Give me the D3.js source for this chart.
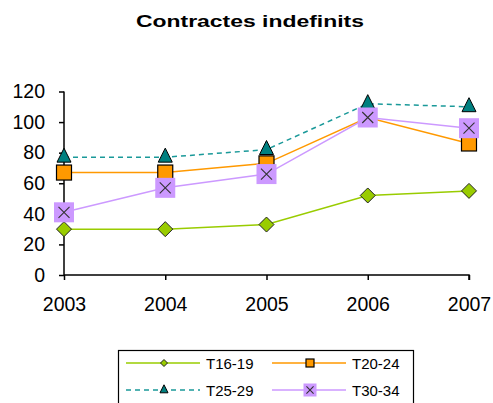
<!DOCTYPE html>
<html>
<head>
<meta charset="utf-8">
<script src="https://cdn.jsdelivr.net/npm/d3@7"></script>
<style>
  body { margin: 0; background: #fff; }
  text { font-family: Arial, "Liberation Sans", sans-serif; }
</style>
</head>
<body>
<svg id="chart" width="493" height="403"></svg>
<script>
//////////////////// DATA ////////////////////
const years = ["2003", "2004", "2005", "2006", "2007"];
const yTicks = [0, 20, 40, 60, 80, 100, 120];
const seriesNames = ["T16-19", "T20-24", "T25-29", "T30-34"];
const t16_19 = [30, 30, 33, 52, 55];
const t20_24 = [67, 67, 73, 103, 86];
const t25_29 = [77, 77, 82, 112, 110];
const t30_34 = [41, 57, 66, 103, 96];

//////////////////// STYLES ////////////////////
const styles = [
    { color: "#99cc00", dash: null, marker: "diamond", fill: "#99cc00" },
    { color: "#ff9900", dash: null, marker: "square", fill: "#ff9900" },
    { color: "#1a9999", dash: "5,4", marker: "triangle", fill: "#008080" },
    { color: "#cc99ff", dash: null, marker: "cross", fill: "#cc99ff" }
];
const allValues = [t16_19, t20_24, t25_29, t30_34];

//////////////////// SIZES ////////////////////
const svg = d3.select("#chart");
const plot = { left: 64, right: 469, top: 91.5, bottom: 275 };

// scales
const xScale = d3.scalePoint().domain(years).range([plot.left, plot.right]);
const yScale = d3.scaleLinear().domain([0, 120]).range([plot.bottom, plot.top]);

//////////////////// TITLE ////////////////////
svg.append("text")
    .attr("x", 250)
    .attr("y", 27)
    .attr("text-anchor", "middle")
    .attr("font-size", "17px")
    .attr("font-weight", "bold")
    .attr("textLength", 228)
    .attr("lengthAdjust", "spacingAndGlyphs")
    .text("Contractes indefinits");

//////////////////// AXES ////////////////////
const yAxis = svg.append("g")
    .attr("transform", `translate(${plot.left},0)`)
    .call(d3.axisLeft(yScale).tickValues(yTicks).tickSize(5).tickPadding(14));

const xAxis = svg.append("g")
    .attr("transform", `translate(0,${plot.bottom})`)
    .call(d3.axisBottom(xScale).tickSize(5).tickPadding(17));

[yAxis, xAxis].forEach(g => {
    g.select(".domain").attr("stroke", "#000").attr("stroke-width", 1.5);
    g.selectAll(".tick line").attr("stroke", "#000").attr("stroke-width", 1.5);
    g.selectAll(".tick text")
        .attr("font-size", "19.5px")
        .attr("font-family", "Arial, 'Liberation Sans', sans-serif")
        .attr("fill", "#000");
});
// remove outer tick stubs on the domain paths
yAxis.select(".domain").attr("d", `M0,${plot.top}V${plot.bottom}`);
xAxis.select(".domain").attr("d", `M${plot.left},0H${plot.right}V5`);

//////////////////// MARKERS ////////////////////
function drawMarker(g, type, x, y, s, st) {
    if (type === "diamond") {
        g.append("path")
            .attr("d", `M${x},${y - s}L${x + s},${y}L${x},${y + s}L${x - s},${y}Z`)
            .attr("fill", st.fill).attr("stroke", "#222").attr("stroke-width", 1);
    } else if (type === "square") {
        g.append("rect")
            .attr("x", x - s).attr("y", y - s).attr("width", 2 * s).attr("height", 2 * s)
            .attr("fill", st.fill).attr("stroke", "#000").attr("stroke-width", 1.2);
    } else if (type === "triangle") {
        g.append("path")
            .attr("d", `M${x},${y - s * 1.3}L${x + s},${y + s * 0.7}L${x - s},${y + s * 0.7}Z`)
            .attr("fill", st.fill).attr("stroke", "#000").attr("stroke-width", 1);
    } else if (type === "cross") {
        g.append("rect")
            .attr("x", x - s).attr("y", y - s).attr("width", 2 * s).attr("height", 2 * s)
            .attr("fill", st.fill);
        const c = s * 0.55;
        g.append("path")
            .attr("d", `M${x - c},${y - c}L${x + c},${y + c}M${x + c},${y - c}L${x - c},${y + c}`)
            .attr("stroke", "#333").attr("stroke-width", 1.1);
    }
}
const markerSize = [7.5, 7.5, 7, 10];

//////////////////// LINES ////////////////////
const line = d3.line()
    .x((d, i) => xScale(years[i]))
    .y(d => yScale(d));

allValues.forEach((vals, k) => {
    const st = styles[k];
    const g = svg.append("g");
    g.append("path")
        .datum(vals)
        .attr("d", line)
        .attr("fill", "none")
        .attr("stroke", st.color)
        .attr("stroke-width", 1.5)
        .attr("stroke-dasharray", st.dash);
    vals.forEach((v, i) => drawMarker(g, st.marker, xScale(years[i]), yScale(v), markerSize[k], st));
});

//////////////////// LEGEND ////////////////////
svg.append("rect")
    .attr("x", 118.5).attr("y", 350.5)
    .attr("width", 295).attr("height", 60)
    .attr("fill", "#fff").attr("stroke", "#000").attr("stroke-width", 1.2);

const legendPos = [
    { x: 126, y: 363 }, { x: 272, y: 363 },
    { x: 126, y: 390 }, { x: 272, y: 390 }
];
const legendMarkerSize = [3.5, 4, 4, 6.5];

seriesNames.forEach((name, k) => {
    const st = styles[k];
    const p = legendPos[k];
    const g = svg.append("g");
    g.append("line")
        .attr("x1", p.x).attr("x2", p.x + 74)
        .attr("y1", p.y).attr("y2", p.y)
        .attr("stroke", st.color).attr("stroke-width", 1.5)
        .attr("stroke-dasharray", st.dash);
    drawMarker(g, st.marker, p.x + 38, p.y, legendMarkerSize[k], st);
    g.append("text")
        .attr("x", p.x + 80).attr("y", p.y + 5.5)
        .attr("font-size", "15px")
        .text(name);
});
</script>
</body>
</html>
